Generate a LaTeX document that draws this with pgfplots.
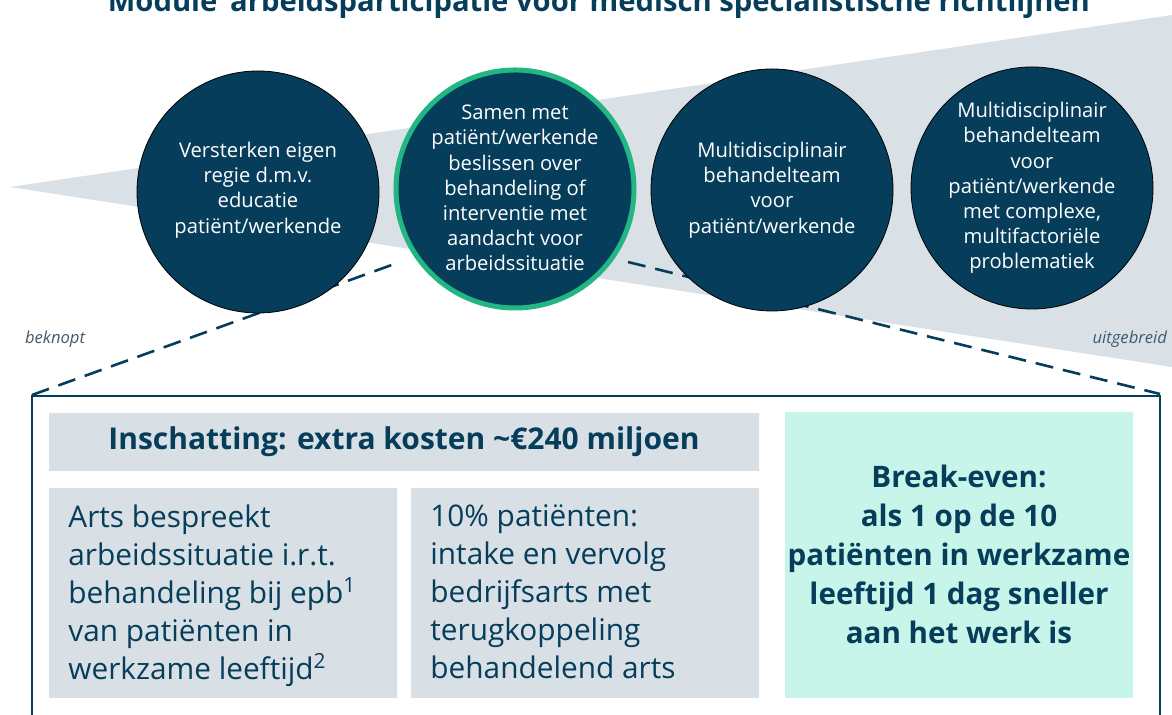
\documentclass[border=0pt]{standalone}
\usepackage{pgfplots}
\pgfplotsset{compat=1.18}
\usepackage{fontspec}
\setmainfont{Open Sans}
\definecolor{navy}{HTML}{053D5A}
\definecolor{wedge}{HTML}{D9E1E6}
\definecolor{boxgray}{HTML}{D8E0E5}
\definecolor{mint}{HTML}{C8F5E9}
\definecolor{ring}{HTML}{22B683}
\definecolor{slate}{HTML}{3F5A6E}

\begin{document}
\begin{tikzpicture}
\begin{axis}[
  scale only axis, width=586pt, height=357.5pt,
  xmin=0, xmax=1172, ymin=0, ymax=715, y dir=reverse,
  hide axis, clip=false, set layers,
]
% wedge (beknopt -> uitgebreid)
\addplot[fill=wedge, draw=none] coordinates {(10,187) (1172,15) (1172,367) (10,187)};
% dashed zoom lines
\addplot[navy, line width=1.3pt, dash pattern=on 9pt off 5pt] coordinates {(32,395) (400,262)};
\addplot[navy, line width=1.3pt, dash pattern=on 9pt off 5pt] coordinates {(628,262) (1160,394)};
% frame
\addplot[navy, line width=1pt] coordinates {(32,740) (32,396) (1160,396) (1160,740)};
% boxes
\addplot[fill=boxgray, draw=none] coordinates {(49,413) (759,413) (759,471) (49,471) (49,413)};
\addplot[fill=boxgray, draw=none] coordinates {(49,488) (397,488) (397,698) (49,698) (49,488)};
\addplot[fill=boxgray, draw=none] coordinates {(411,488) (759,488) (759,698) (411,698) (411,488)};
\addplot[fill=mint, draw=none] coordinates {(785,412) (1133,412) (1133,698) (785,698) (785,412)};
% circles
\addplot[only marks, mark=*, mark size=60.5pt, mark options={fill=navy, draw=none}]
  coordinates {(258,192) (772,190) (1032,188)};
\addplot[only marks, mark=*, mark size=59.5pt, mark options={fill=navy, draw=ring, line width=2.5pt}]
  coordinates {(515,189)};

\begin{pgfonlayer}{axis foreground}
\node[anchor=base, text=navy, font=\fontsize{14.6}{18}\selectfont\bfseries] at (axis cs:602,12)
  {Module ‘arbeidsparticipatie voor medisch specialistische richtlijnen’};
\begin{scope}[every node/.style={text=white, align=center, font=\fontsize{10.1}{12.6}\selectfont}]
\node at (axis cs:258,190) {Versterken eigen\\regie d.m.v.\\educatie\\patiënt/werkende};
\node at (axis cs:515,188) {Samen met\\patiënt/werkende\\beslissen over\\behandeling of\\interventie met\\aandacht voor\\arbeidssituatie};
\node at (axis cs:772,190) {Multidisciplinair\\behandelteam\\voor\\patiënt/werkende};
\node at (axis cs:1032,188) {Multidisciplinair\\behandelteam\\voor\\patiënt/werkende\\met complexe,\\multifactoriële\\problematiek};
\end{scope}
\node[anchor=west, text=slate, font=\fontsize{8.3}{9}\selectfont\itshape] at (axis cs:18,339) {beknopt};
\node[anchor=east, text=slate, font=\fontsize{8.3}{9}\selectfont\itshape] at (axis cs:1174,339) {uitgebreid};

\node[text=navy, font=\fontsize{15}{18}\selectfont\bfseries] at (axis cs:404,442)
  {Inschatting: extra kosten \textasciitilde€240 miljoen};
\begin{scope}[every node/.style={anchor=north west, inner sep=0pt, align=left, text=navy, font=\fontsize{14.9}{19}\selectfont}]
\node at (axis cs:68,504) {Arts bespreekt\\arbeidssituatie i.r.t.\\behandeling bij epb\textsuperscript{1}\\van patiënten in\\werkzame leeftijd\textsuperscript{2}};
\node at (axis cs:430,504) {10\% patiënten:\\intake en vervolg\\bedrijfsarts met\\terugkoppeling\\behandelend arts};
\end{scope}
\node[align=center, text=navy, font=\fontsize{14.8}{19.5}\selectfont\bfseries] at (axis cs:959,554)
  {Break-even:\\als 1 op de 10\\patiënten in werkzame\\leeftijd 1 dag sneller\\aan het werk is};
\end{pgfonlayer}
\end{axis}
\pgfresetboundingbox
\useasboundingbox (current axis.south west) rectangle (current axis.north east);
\end{tikzpicture}
\end{document}
